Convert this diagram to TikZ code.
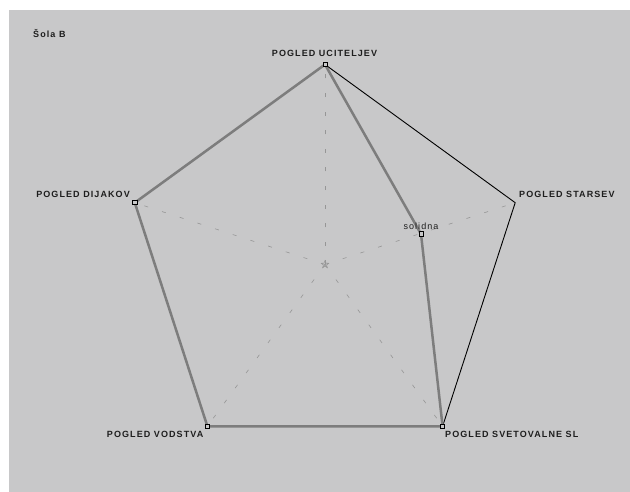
\documentclass[tikz,border=0pt]{standalone}
\usepackage{fontspec}
\setmainfont{Liberation Sans}
\newfontfamily\lblfont[LetterSpace=12]{Liberation Sans}
\usetikzlibrary{shapes.geometric}
\definecolor{panelbg}{RGB}{200,200,201}
\definecolor{seriesgray}{RGB}{125,125,125}
\definecolor{axisgray}{RGB}{150,150,150}
\definecolor{labelink}{RGB}{30,30,30}
\begin{document}
\begin{tikzpicture}[x=1pt,y=-1pt,
  axislabel/.style={font=\lblfont\bfseries\fontsize{9}{10}\selectfont, text=labelink, inner sep=0pt},
  valuelabel/.style={font=\lblfont\fontsize{9}{10}\selectfont, text=labelink, inner sep=0pt},
  axisline/.style={draw=axisgray, line width=0.6pt, dash pattern=on 4pt off 14.6pt},
  frameline/.style={draw=black, line width=0.9pt, line join=miter},
  seriesline/.style={draw=seriesgray, line width=2.5pt, line join=round},
  marker/.style={draw=black, line width=0.8pt, rectangle, minimum size=4.2pt, inner sep=0pt, fill=panelbg},
  centermark/.style={draw=axisgray, star, star points=5, star point ratio=2.4, minimum size=8pt, inner sep=0pt, line width=0.5pt}
]
\useasboundingbox (0,0) rectangle (630,492);
\fill[white] (0,0) rectangle (630,492);
\fill[panelbg] (9,10) rectangle (630,492);

% axis vertices
\coordinate (C) at (325,264.5);
\coordinate (T) at (325,64.5);
\coordinate (R) at (515.2,202.7);
\coordinate (BR) at (442.6,426.3);
\coordinate (BL) at (207.4,426.3);
\coordinate (L) at (134.8,202.7);
% data point on right axis (half)
\coordinate (Rh) at (421,234);

% dashed axes
\foreach \v in {T,R,BR,BL,L} \draw[axisline] (C) -- (\v);
\node[centermark] (ctr) at (C) {};

% outer frame
\draw[frameline] (T) -- (R) -- (BR) -- (BL) -- (L) -- cycle;

% series
\draw[seriesline] (T) -- (Rh) -- (BR) -- (BL) -- (L) -- cycle;

% markers
\node[marker] (mT) at (T) {};
\node[marker] (mR) at (Rh) {};
\node[marker] (mBR) at (BR) {};
\node[marker] (mBL) at (BL) {};
\node[marker] (mL) at (L) {};

% labels
\node[axislabel, anchor=base] (lT) at (324.5,56.7) {POGLED UCITELJEV};
\node[axislabel, anchor=base west] (lR) at (519,197.4) {POGLED STARSEV};
\node[axislabel, anchor=base east] (lL) at (130,197.7) {POGLED DIJAKOV};
\node[axislabel, anchor=base east] (lBL) at (203.5,437.3) {POGLED VODSTVA};
\node[axislabel, anchor=base west] (lBR) at (445,437.3) {POGLED SVETOVALNE SL};
\node[valuelabel, anchor=base] (vR) at (421,230) {solidna};
\node[axislabel, anchor=base west] (title) at (33,37.7) {Šola B};
\end{tikzpicture}
\end{document}
